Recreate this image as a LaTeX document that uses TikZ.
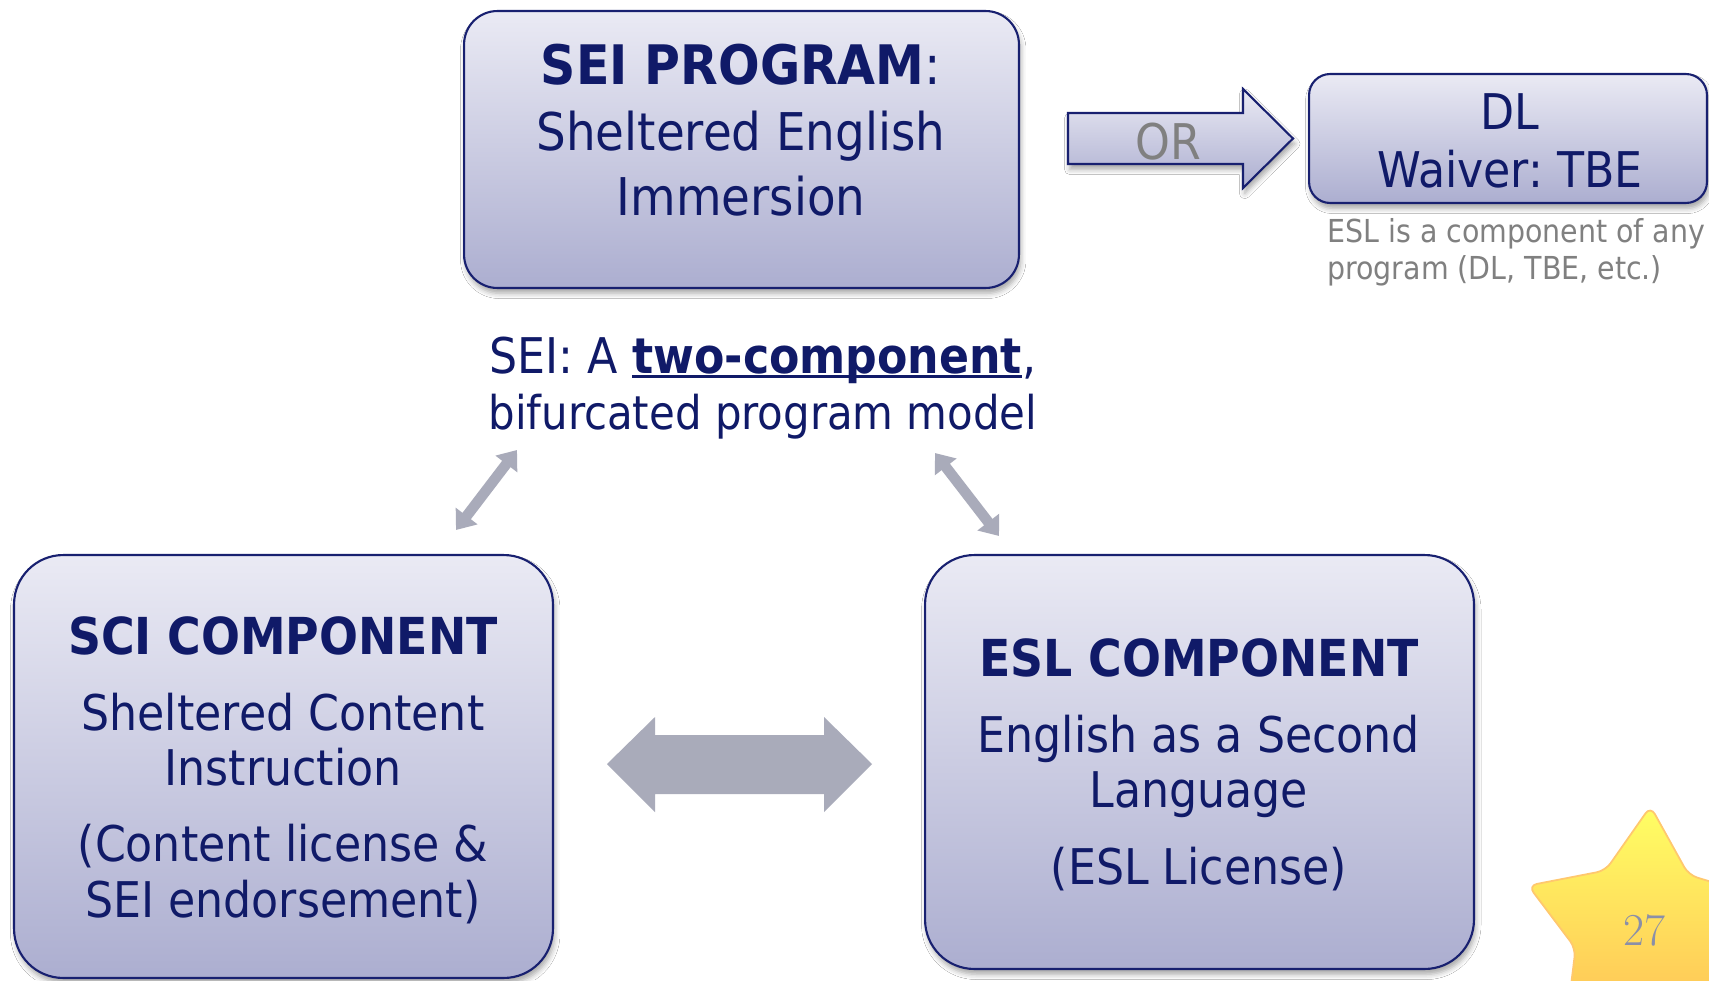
\documentclass[tikz,border=0pt]{standalone}
\usepackage{fontspec}
\setmainfont{DejaVu Sans Condensed}
\usetikzlibrary{shapes.geometric,arrows.meta,shadows.blur}

\definecolor{navy}{RGB}{16,26,104}
\definecolor{boxline}{RGB}{24,32,112}
\definecolor{boxtop}{RGB}{234,234,244}
\definecolor{boxbot}{RGB}{172,174,208}
\definecolor{arrowgray}{RGB}{169,171,186}
\definecolor{notegray}{RGB}{128,128,128}
\definecolor{startop}{RGB}{255,255,100}
\definecolor{starbot}{RGB}{255,190,85}
\definecolor{starline}{RGB}{255,200,110}
\definecolor{numgray}{RGB}{138,143,168}

\newcommand\bodysize{\fontsize{28}{34}\selectfont}
\newcommand\headsize{\fontsize{29}{35}\selectfont}
\newcommand\notesize{\fontsize{18}{22}\selectfont}
% underline drawn just under the baseline, crossing descenders
\newcommand\ulbar[1]{\setbox0\hbox{#1}\rlap{\rule[-3pt]{\wd0}{1.6pt}}\box0}

\tikzset{
  box/.style={draw=boxline, line width=1.2pt, top color=boxtop, bottom color=boxbot,
    inner sep=0pt, outer sep=0pt,
    blur shadow={shadow xshift=1pt, shadow yshift=-3pt, shadow blur radius=3pt, shadow opacity=35}},
  txt/.style={text=navy, anchor=base, inner sep=0pt, font=\bodysize},
  headtxt/.style={txt, font=\headsize\bfseries},
  note/.style={text=notegray, anchor=base west, inner sep=0pt, font=\notesize},
  linkarrow/.style={draw=arrowgray, line width=6pt,
    {Triangle[width=15pt,length=10pt]}-{Triangle[width=15pt,length=10pt]}},
}

\begin{document}
\frenchspacing
\begin{tikzpicture}[x=0.02cm, y=-0.02cm]
\fill[white] (0,0) rectangle (1709,980);
\useasboundingbox (0,0) rectangle (1709,980);

% top program box
\node[box, rounded corners=19pt, minimum width=11.1cm, minimum height=5.54cm] (sei) at (741.5,149.5) {};
\node[headtxt, font=\fontsize{31}{36}\selectfont\bfseries] (seiA) at (741,85) {SEI PROGRAM\mdseries:};
\node[txt, font=\fontsize{29.6}{35}\selectfont] (seiB) at (741,150) {Sheltered English};
\node[txt, font=\fontsize{29.6}{35}\selectfont] (seiC) at (741,215) {Immersion};

% OR arrow
\draw[draw=boxline, line width=1.2pt, top color=boxtop, bottom color=boxbot,
  blur shadow={shadow xshift=1pt, shadow yshift=-3pt, shadow blur radius=3pt, shadow opacity=35}]
  (1068,113) -- (1243,113) -- (1243,89) -- (1293,138.5) -- (1243,188) -- (1243,164) -- (1068,164) -- cycle;
\node[text=notegray, anchor=base, inner sep=0pt, font=\bodysize] (or) at (1168,159) {OR};

% alternative program box
\node[box, rounded corners=12pt, minimum width=7.96cm, minimum height=2.58cm] (dl) at (1508,138.5) {};
\node[txt] (dlA) at (1510,130) {DL};
\node[txt] (dlB) at (1510,187.5) {Waiver: TBE};
\node[note] (noteA) at (1327,242) {ESL is a component of any};
\node[note] (noteB) at (1327,279) {program (DL, TBE, etc.)};

% model caption
\node[txt] (capA) at (763,373) {SEI: A \textbf{\ulbar{two-component}},};
\node[txt, font=\fontsize{26.5}{32}\selectfont] (capB) at (763,429) {bifurcated program model};

% component boxes
\node[box, rounded corners=28pt, minimum width=10.78cm, minimum height=8.46cm] (sci) at (283.5,766.5) {};
\node[headtxt] (sciA) at (283,654) {SCI COMPONENT};
\node[txt] (sciB) at (283,730) {Sheltered Content};
\node[txt] (sciC) at (283,785) {Instruction};
\node[txt] (sciD) at (283,861) {(Content license \&};
\node[txt] (sciE) at (283,917) {SEI endorsement)};

\node[box, rounded corners=28pt, minimum width=10.98cm, minimum height=8.28cm] (esl) at (1199.5,762) {};
\node[headtxt] (eslA) at (1199,676) {ESL COMPONENT};
\node[txt] (eslB) at (1199,752) {English as a Second};
\node[txt] (eslC) at (1199,807) {Language};
\node[txt] (eslD) at (1199,884) {(ESL License)};

% links between caption and components
\coordinate (lA) at (456,530);
\coordinate (lB) at (517,450);
\coordinate (rA) at (935,453);
\coordinate (rB) at (999,536);
\draw[linkarrow] (lA) -- (lB);
\draw[linkarrow] (rA) -- (rB);

% wide double arrow between the components
\fill[arrowgray] (607,764) -- (655,717) -- (655,735) -- (824,735) -- (824,717) -- (872,764)
  -- (824,812) -- (824,794) -- (655,794) -- (655,812) -- cycle;

% page star
\begin{scope}
\clip (0,0) rectangle (1709,980);
\node[star, star points=5, star point ratio=1.75, minimum size=4.96cm, shape border rotate=-3,
  rounded corners=5pt, draw=starline, line width=1pt, top color=startop, bottom color=starbot,
  inner sep=0pt, text=numgray, font=\fontfamily{lmr}\selectfont\fontsize{26}{30}\selectfont]
  (star) at (1644,930) {27};
\end{scope}
\end{tikzpicture}
\end{document}
